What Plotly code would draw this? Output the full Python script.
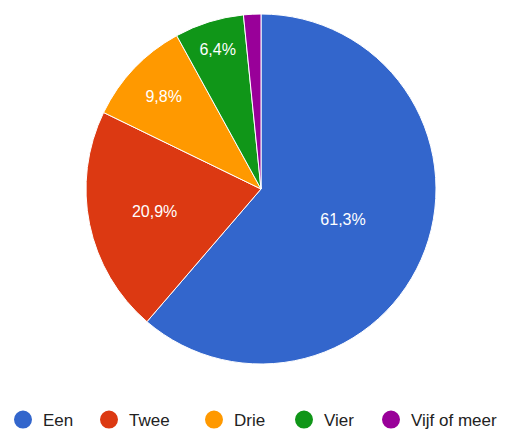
import plotly.graph_objects as go

labels = ["Een", "Twee", "Drie", "Vier", "Vijf of meer"]
values = [61.3, 20.9, 9.8, 6.4, 1.6]
colors = ["#3366cc", "#dc3912", "#ff9900", "#109618", "#990099"]
templates = ["%{percent:.1%}", "%{percent:.1%}", "%{percent:.1%}", "%{percent:.1%}", ""]
legend_x_px = [-5, 81, 186, 276, 363]

W, H = 507, 429
FONT = "Arial, Liberation Sans, sans-serif"

fig = go.Figure()
fig.add_trace(go.Pie(
    labels=labels,
    values=values,
    sort=False,
    direction="clockwise",
    rotation=0,
    domain=dict(x=[78 / W, 428 / W], y=[73 / H, 423 / H]),
    marker=dict(colors=colors, line=dict(color="white", width=1)),
    texttemplate=templates,
    textposition="inside",
    insidetextorientation="horizontal",
    textfont=dict(color="white", size=16, family=FONT),
    hoverinfo="label+percent",
    showlegend=False,
))

layout_legends = {}
for i, (lab, col, lx) in enumerate(zip(labels, colors, legend_x_px)):
    key = "legend" if i == 0 else f"legend{i + 1}"
    fig.add_trace(go.Scatter(
        x=[None], y=[None], mode="markers", name=lab,
        marker=dict(color=col, size=16, symbol="circle", line=dict(color=col, width=2)),
        legend=key, showlegend=True,
    ))
    layout_legends[key] = dict(
        x=lx / W, xanchor="left", y=17 / H, yanchor="middle",
        orientation="h", bgcolor="rgba(0,0,0,0)",
        font=dict(size=17, color="#222222", family=FONT),
    )

fig.update_layout(
    width=W, height=H,
    separators=",.",
    margin=dict(l=0, r=0, t=0, b=0, autoexpand=False),
    paper_bgcolor="white",
    plot_bgcolor="white",
    font=dict(family=FONT, size=14, color="#222222"),
    xaxis=dict(visible=False),
    yaxis=dict(visible=False),
    **layout_legends,
)

fig.write_html("out.html")
